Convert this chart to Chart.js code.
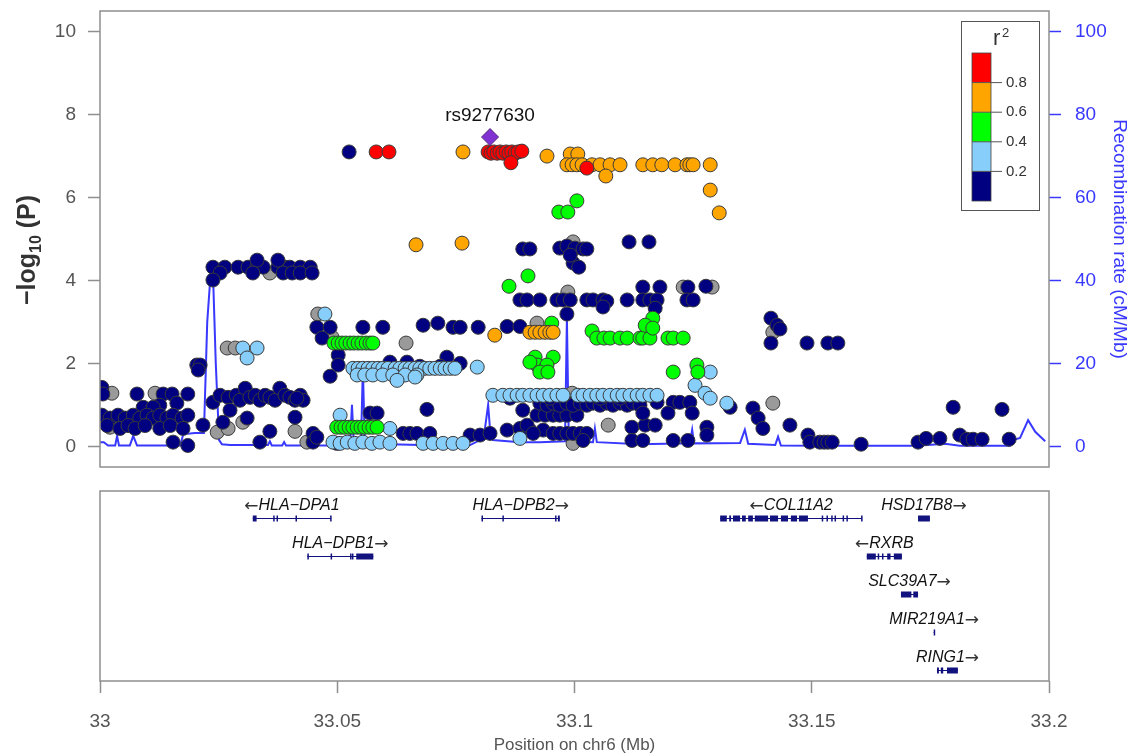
<!DOCTYPE html>
<html>
<head>
<meta charset="utf-8">
<script src="https://cdn.jsdelivr.net/npm/chart.js@4.4.1/dist/chart.umd.min.js"></script>
<style>
  html, body { margin: 0; padding: 0; background: #fff; }
  #wrap { position: relative; width: 1134px; height: 756px; }
  #assoc { position: absolute; left: 0; top: 0; }
  #genes { position: absolute; left: 0; top: 480px; }
</style>
</head>
<body>
<div id="wrap">
  <canvas id="assoc" width="1134" height="480"></canvas>
  <canvas id="genes" width="1134" height="276"></canvas>
</div>
<script>
// ---- Axis ticks -------------------------------------------------------
const pTicks = [0, 2, 4, 6, 8, 10];
const recombTicks = [0, 20, 40, 60, 80, 100];
const posTicks = [33, 33.05, 33.1, 33.15, 33.2];

// ---- r2 colour key (top to bottom) -----------------------------------
const r2Colors = ['#ff0000', '#ffa500', '#00ff00', '#87cefa', '#000080'];
const r2Breaks = ['0.8', '0.6', '0.4', '0.2'];

// ---- Index SNP --------------------------------------------------------
const leadName = 'rs9277630';
const leadPos = 33.0822;
const leadLogP = 7.46;

// ---- SNPs by LD class: [position (Mb), -log10 P] ----------------------
const snpRed = [
  [33.0582, 7.10], [33.0609, 7.10],
  [33.0818, 7.10], [33.0824, 7.07], [33.0830, 7.10], [33.0837, 7.07], [33.0843, 7.10],
  [33.0849, 7.07], [33.0856, 7.10], [33.0862, 7.07], [33.0868, 7.10], [33.0875, 7.07],
  [33.0881, 7.10], [33.0889, 7.12], [33.0866, 6.84], [33.1026, 6.71]
];
const snpOrange = [
  [33.0666, 4.86], [33.0763, 4.90], [33.0765, 7.10], [33.0942, 7.00],
  [33.0991, 7.05], [33.1007, 7.05],
  [33.0984, 6.79], [33.0995, 6.79], [33.1005, 6.79], [33.1016, 6.79], [33.1037, 6.79],
  [33.1054, 6.79], [33.1075, 6.79], [33.1096, 6.79], [33.1066, 6.52],
  [33.1144, 6.79], [33.1165, 6.79], [33.1184, 6.79], [33.1212, 6.79], [33.1237, 6.79],
  [33.1243, 6.79], [33.1250, 6.79], [33.1286, 6.79], [33.1286, 6.18], [33.1305, 5.63],
  [33.0832, 2.68], [33.0906, 2.75], [33.0917, 2.75], [33.0927, 2.75], [33.0938, 2.75],
  [33.0948, 2.75], [33.0955, 2.75]
];
const snpGreen = [
  [33.1005, 5.92], [33.0967, 5.65], [33.0986, 5.65], [33.0902, 4.11], [33.0862, 3.86],
  [33.0952, 2.97],
  [33.0493, 2.49], [33.0502, 2.49], [33.0510, 2.49], [33.0518, 2.49], [33.0527, 2.49],
  [33.0535, 2.49], [33.0544, 2.49], [33.0552, 2.49], [33.0561, 2.49], [33.0569, 2.49],
  [33.0575, 2.49],
  [33.0917, 2.15], [33.0955, 2.15], [33.0921, 1.96], [33.0942, 1.96], [33.0927, 1.79],
  [33.0944, 1.79], [33.0906, 2.03],
  [33.1037, 2.78],
  [33.1047, 2.61], [33.1062, 2.61], [33.1075, 2.61], [33.1096, 2.61], [33.1111, 2.61],
  [33.1138, 2.61], [33.1144, 2.61], [33.1159, 2.61], [33.1197, 2.61], [33.1208, 2.61],
  [33.1229, 2.61],
  [33.1165, 3.09], [33.1149, 2.92], [33.1165, 2.85],
  [33.1208, 1.79], [33.1258, 1.96], [33.1260, 1.79],
  [33.0499, 0.46], [33.0508, 0.46], [33.0516, 0.46], [33.0525, 0.46], [33.0533, 0.46],
  [33.0542, 0.46], [33.0550, 0.46], [33.0558, 0.46], [33.0567, 0.46], [33.0575, 0.46],
  [33.0584, 0.46]
];
const snpLightBlue = [
  [33.0301, 2.37], [33.0331, 2.37], [33.0310, 2.13], [33.0474, 3.19],
  [33.0533, 1.88], [33.0544, 1.88], [33.0554, 1.88], [33.0565, 1.88], [33.0575, 1.88],
  [33.0586, 1.88], [33.0596, 1.88], [33.0607, 1.88], [33.0622, 1.88], [33.0632, 1.88],
  [33.0643, 1.88], [33.0653, 1.88], [33.0664, 1.88], [33.0674, 1.88], [33.0685, 1.88],
  [33.0695, 1.88], [33.0706, 1.88], [33.0717, 1.88], [33.0727, 1.88], [33.0738, 1.88],
  [33.0748, 1.88],
  [33.0542, 1.72], [33.0558, 1.72], [33.0575, 1.72], [33.0596, 1.72], [33.0617, 1.72],
  [33.0643, 1.72], [33.0668, 1.72],
  [33.0626, 1.59], [33.0664, 1.67], [33.0795, 1.91],
  [33.0506, 0.75], [33.0611, 0.43],
  [33.0491, 0.10], [33.0506, 0.07], [33.0521, 0.10], [33.0537, 0.07], [33.0554, 0.10],
  [33.0573, 0.07], [33.0590, 0.10], [33.0611, 0.07], [33.0681, 0.07], [33.0702, 0.07],
  [33.0723, 0.07], [33.0744, 0.07], [33.0765, 0.07],
  [33.0885, 0.19],
  [33.0828, 1.23], [33.0849, 1.23], [33.0864, 1.23], [33.0879, 1.23], [33.0891, 1.23],
  [33.0906, 1.23], [33.0921, 1.23], [33.0934, 1.23], [33.0948, 1.23], [33.0963, 1.23],
  [33.0976, 1.23], [33.1007, 1.23], [33.1018, 1.23], [33.1033, 1.23], [33.1047, 1.23],
  [33.1060, 1.23], [33.1075, 1.23], [33.1090, 1.23], [33.1102, 1.23], [33.1117, 1.23],
  [33.1132, 1.23], [33.1144, 1.23], [33.1159, 1.23], [33.1174, 1.23],
  [33.1286, 1.79], [33.1254, 1.47], [33.1275, 1.28], [33.1286, 1.16], [33.1321, 1.04]
];
const snpNavy = [
  [33.0525, 7.10],
  [33.1115, 4.93], [33.1157, 4.93],
  [33.0891, 4.76], [33.0906, 4.76], [33.0969, 4.78], [33.0984, 4.83], [33.1001, 4.78],
  [33.1018, 4.76], [33.1026, 4.76], [33.0997, 4.42], [33.1009, 4.32], [33.0991, 4.61],
  [33.1144, 3.84], [33.1180, 3.84], [33.1239, 3.84], [33.1277, 3.86],
  [33.0885, 3.53], [33.0900, 3.53], [33.0927, 3.53], [33.0963, 3.53], [33.0976, 3.53],
  [33.0991, 3.53], [33.1026, 3.53], [33.1039, 3.53], [33.1060, 3.53], [33.1068, 3.50],
  [33.1111, 3.53], [33.1144, 3.53], [33.1159, 3.53], [33.1174, 3.53], [33.1237, 3.53],
  [33.1250, 3.53],
  [33.1060, 3.36], [33.1170, 3.33], [33.0984, 3.19],
  [33.0238, 4.32], [33.0263, 4.32], [33.0291, 4.32], [33.0312, 4.32], [33.0331, 4.32],
  [33.0344, 4.32], [33.0375, 4.32], [33.0390, 4.32], [33.0400, 4.32], [33.0422, 4.32],
  [33.0443, 4.32], [33.0331, 4.49], [33.0375, 4.49],
  [33.0253, 4.18], [33.0322, 4.18], [33.0386, 4.18], [33.0405, 4.18], [33.0422, 4.18],
  [33.0447, 4.18], [33.0238, 4.01],
  [33.0204, 1.96], [33.0211, 1.96], [33.0207, 1.84],
  [33.0457, 2.87], [33.0485, 2.87], [33.0468, 2.61], [33.0502, 2.20], [33.0502, 1.96],
  [33.0485, 1.69],
  [33.0554, 2.87], [33.0596, 2.87], [33.0681, 2.92], [33.0712, 2.97], [33.0744, 2.87],
  [33.0759, 2.87], [33.0797, 2.87], [33.0858, 2.89], [33.0885, 2.89],
  [33.0731, 2.15], [33.0611, 2.03], [33.0647, 2.03], [33.0759, 2.00],
  [33.1414, 3.09], [33.1427, 2.92], [33.1433, 2.83], [33.1414, 2.49], [33.1490, 2.49],
  [33.1534, 2.49], [33.1555, 2.49],
  [33.0004, 1.42], [33.0006, 1.26], [33.0078, 1.26], [33.0133, 1.26], [33.0152, 1.26],
  [33.0185, 1.26],
  [33.0126, 0.99], [33.0091, 0.94], [33.0112, 0.94], [33.0162, 1.04],
  [33.0004, 0.75], [33.0021, 0.68], [33.0038, 0.75], [33.0053, 0.68], [33.0070, 0.75],
  [33.0084, 0.68], [33.0099, 0.75], [33.0112, 0.68], [33.0126, 0.75], [33.0141, 0.68],
  [33.0154, 0.75], [33.0173, 0.68], [33.0185, 0.75],
  [33.0015, 0.50], [33.0042, 0.43], [33.0059, 0.50], [33.0074, 0.43], [33.0095, 0.50],
  [33.0126, 0.43], [33.0148, 0.50], [33.0175, 0.43],
  [33.0154, 0.10], [33.0185, 0.02], [33.0217, 0.51],
  [33.0238, 1.06], [33.0253, 1.23], [33.0270, 1.18], [33.0287, 1.23], [33.0295, 1.11],
  [33.0306, 1.40], [33.0316, 1.18], [33.0327, 1.23], [33.0337, 1.11], [33.0348, 1.23],
  [33.0358, 1.18], [33.0369, 1.11], [33.0379, 1.40], [33.0390, 1.23], [33.0400, 1.18],
  [33.0411, 1.11], [33.0422, 1.23], [33.0428, 1.11],
  [33.0274, 0.87], [33.0310, 0.68], [33.0259, 0.58], [33.0337, 0.10], [33.0358, 0.36],
  [33.0411, 0.70], [33.0415, 1.16],
  [33.0449, 0.31], [33.0449, 0.10], [33.0499, 0.07], [33.0457, 0.22],
  [33.0569, 0.80], [33.0584, 0.80], [33.0689, 0.89],
  [33.0639, 0.31], [33.0653, 0.31], [33.0668, 0.31], [33.0695, 0.31],
  [33.0780, 0.27], [33.0801, 0.27], [33.0822, 0.31],
  [33.0858, 0.39], [33.0885, 0.43], [33.0906, 0.39], [33.0934, 0.39], [33.0900, 0.51],
  [33.0891, 0.87],
  [33.0921, 0.75], [33.0938, 0.75], [33.0955, 0.75], [33.0969, 0.75], [33.0984, 0.75],
  [33.1005, 0.75],
  [33.0927, 1.04], [33.0942, 0.99], [33.0955, 1.04], [33.0969, 0.99], [33.0984, 1.04],
  [33.0997, 0.99], [33.1012, 1.04], [33.1026, 0.99], [33.1039, 1.04], [33.1054, 0.99],
  [33.1068, 1.04], [33.1081, 0.99], [33.1096, 1.04], [33.1111, 0.99], [33.1123, 1.04],
  [33.1138, 0.99],
  [33.0913, 0.31], [33.0955, 0.31], [33.0969, 0.31], [33.0984, 0.31], [33.0997, 0.31],
  [33.1012, 0.31], [33.1026, 0.31], [33.1018, 0.14],
  [33.1121, 0.46], [33.1149, 0.51], [33.1170, 0.51],
  [33.1121, 0.14], [33.1144, 0.14], [33.1208, 0.14], [33.1239, 0.14],
  [33.1174, 1.06], [33.1208, 1.06], [33.1222, 1.06], [33.1243, 1.06],
  [33.1144, 0.80], [33.1197, 0.80], [33.1248, 0.80],
  [33.1279, 0.46], [33.1279, 0.27],
  [33.1328, 0.94], [33.1376, 0.92], [33.1387, 0.68], [33.1397, 0.43],
  [33.1454, 0.51], [33.1492, 0.27], [33.1496, 0.10], [33.1517, 0.10], [33.1526, 0.10],
  [33.1534, 0.10], [33.1543, 0.10],
  [33.1604, 0.05], [33.1724, 0.10], [33.1741, 0.19], [33.1770, 0.19], [33.1798, 0.94],
  [33.1812, 0.27], [33.1827, 0.17], [33.1840, 0.17], [33.1859, 0.17], [33.1901, 0.89],
  [33.1916, 0.17],
  [33.0864, 1.16], [33.0948, 1.16], [33.1054, 1.16], [33.1096, 1.16],
  [33.0601, 1.88], [33.0674, 1.93], [33.0717, 1.93]
];
const snpGray = [
  [33.0025, 1.28], [33.0116, 1.28], [33.0021, 0.46], [33.0268, 2.37], [33.0285, 2.37],
  [33.0358, 4.18], [33.0301, 0.58], [33.0247, 0.34], [33.0270, 0.43], [33.0411, 0.36],
  [33.0459, 3.19], [33.0489, 2.63], [33.0436, 0.10], [33.0645, 2.49], [33.0921, 2.97],
  [33.0986, 3.72], [33.0997, 4.93], [33.0995, 1.28], [33.0997, 0.07], [33.1071, 0.51],
  [33.1229, 3.84], [33.1290, 3.84], [33.1418, 2.75], [33.1418, 1.04]
];

// ---- Recombination rate: [position (Mb), cM/Mb] ----------------------
const recomb = [
  [33.0000, 1.0], [33.0008, 1.0], [33.0017, 0.2], [33.0032, 0.2], [33.0036, 2.5],
  [33.0040, 0.2], [33.0063, 0.2], [33.0070, 2.5], [33.0078, 0.2], [33.0169, 0.2],
  [33.0177, 3.5], [33.0185, 3.0], [33.0200, 3.2], [33.0219, 3.2], [33.0226, 30],
  [33.0234, 43], [33.0238, 42], [33.0244, 20], [33.0251, 1.5], [33.0257, 0.5],
  [33.0274, 0.3], [33.0354, 0.3], [33.0358, 1.2], [33.0362, 0.2], [33.0384, 0.2],
  [33.0388, 1.0], [33.0392, 0.2], [33.0527, 0.2], [33.0531, 10], [33.0535, 0.5],
  [33.0550, 0.5], [33.0554, 19], [33.0558, 0.8], [33.0611, 0.5], [33.0674, 0.3],
  [33.0738, 0.2], [33.0780, 0.3], [33.0801, 1.5], [33.0811, 4], [33.0818, 10],
  [33.0822, 4], [33.0828, 1.5], [33.0885, 1.0], [33.0927, 1.0], [33.0980, 1.2],
  [33.0984, 31], [33.0988, 1.2], [33.1039, 1.0], [33.1043, 4.3], [33.1047, 1.0],
  [33.1138, 0.5], [33.1243, 0.7], [33.1248, 4], [33.1252, 0.7], [33.1349, 0.8],
  [33.1359, 4], [33.1366, 0.6], [33.1423, 0.3], [33.1429, 2.3], [33.1435, 0.2],
  [33.1517, 0.1], [33.1686, 0.1], [33.1722, 0.1], [33.1781, 0.6], [33.1812, 0.1],
  [33.1918, 0.1], [33.1924, 1.5], [33.1939, 2.0], [33.1956, 6.3], [33.1971, 3.5],
  [33.1992, 1.2]
];

// ---- Genes ------------------------------------------------------------
const geneNames = ['HLA\u2212DPA1', 'HLA\u2212DPB1', 'HLA\u2212DPB2', 'COL11A2', 'HSD17B8',
                   'RXRB', 'SLC39A7', 'MIR219A1', 'RING1'];
const geneStrand = ['-', '+', '+', '-', '+', '-', '+', '+', '+'];
const geneRow = [0, 1, 0, 0, 0, 1, 2, 3, 4];
const geneStart = [33.0322, 33.0437, 33.0804, 33.1307, 33.1724, 33.1616, 33.1688, 33.1757, 33.1764];
const geneEnd = [33.0487, 33.0576, 33.0969, 33.1606, 33.1749, 33.1690, 33.1724, 33.1759, 33.1808];
const geneExons = [
  [[33.0322, 33.0330], [33.0365, 33.0368], [33.0372, 33.0375], [33.0412, 33.0414], [33.0485, 33.0487]],
  [[33.0437, 33.0439], [33.0486, 33.0488], [33.0527, 33.0529], [33.0531, 33.0533], [33.0540, 33.0576]],
  [[33.0804, 33.0806], [33.0848, 33.0850], [33.0959, 33.0961], [33.0965, 33.0969]],
  [[33.1307, 33.1321], [33.1326, 33.1330], [33.1334, 33.1349], [33.1353, 33.1361], [33.1366, 33.1376],
   [33.1380, 33.1408], [33.1412, 33.1429], [33.1435, 33.1450], [33.1456, 33.1469], [33.1473, 33.1492],
   [33.1521, 33.1523], [33.1531, 33.1533], [33.1541, 33.1543], [33.1548, 33.1550], [33.1565, 33.1567],
   [33.1573, 33.1575], [33.1604, 33.1606]],
  [[33.1724, 33.1749]],
  [[33.1616, 33.1635], [33.1639, 33.1642], [33.1648, 33.1651], [33.1659, 33.1666], [33.1673, 33.1690]],
  [[33.1688, 33.1710], [33.1714, 33.1724]],
  [[33.1757, 33.1759]],
  [[33.1764, 33.1768], [33.1772, 33.1777], [33.1785, 33.1808]]
];

// ---- Styling ----------------------------------------------------------
const FONT = '"Liberation Sans", Arial, Helvetica, sans-serif';
const ARROW_FONT = '17px "DejaVu Sans", sans-serif';
Chart.defaults.font.family = FONT;
const frameColor = '#8f8f8f';
const recombBlue = '#3838ff';
const geneColor = '#12127f';

function snpSet(label, rows, color) {
  return {
    label,
    data: rows.map(([p, v]) => ({ x: p, y: v })),
    backgroundColor: color,
    borderColor: '#3a3a3a',
    borderWidth: 1,
    pointRadius: 7,
    pointHoverRadius: 7,
    yAxisID: 'y'
  };
}

// box around the plotting area
const frame = {
  id: 'frame',
  afterDraw(chart) {
    const a = chart.chartArea, ctx = chart.ctx;
    ctx.save();
    ctx.strokeStyle = frameColor;
    ctx.lineWidth = 1.5;
    ctx.strokeRect(a.left, a.top, a.right - a.left, a.bottom - a.top);
    ctx.restore();
  }
};

// -log10(P) axis title with a subscript
const pTitle = {
  id: 'pTitle',
  afterDraw(chart) {
    const ctx = chart.ctx;
    const mid = (chart.chartArea.top + chart.chartArea.bottom) / 2 + 11;
    ctx.save();
    ctx.translate(35, mid);
    ctx.rotate(-Math.PI / 2);
    ctx.fillStyle = '#333';
    ctx.textBaseline = 'alphabetic';
    ctx.textAlign = 'left';
    const big = 'bold 25px ' + FONT, small = 'bold 16px ' + FONT;
    const parts = [['\u2212log', big, 0], ['10', small, 6], [' (P)', big, 0]];
    let total = 0;
    parts.forEach(([t, f]) => { ctx.font = f; total += ctx.measureText(t).width; });
    let x = -total / 2;
    parts.forEach(([t, f, dy]) => {
      ctx.font = f;
      ctx.fillText(t, x, dy);
      x += ctx.measureText(t).width;
    });
    ctx.restore();
  }
};

// label over the index SNP
const leadLabel = {
  id: 'leadLabel',
  afterDatasetsDraw(chart) {
    const { ctx, scales: { x, y } } = chart;
    ctx.save();
    ctx.font = '19px ' + FONT;
    ctx.fillStyle = '#111';
    ctx.textAlign = 'center';
    ctx.textBaseline = 'middle';
    ctx.fillText(leadName, x.getPixelForValue(leadPos), y.getPixelForValue(leadLogP) - 21);
    ctx.restore();
  }
};

// r2 colour key
const r2Key = {
  id: 'r2Key',
  afterDraw(chart) {
    const ctx = chart.ctx, a = chart.chartArea;
    const bx = a.right - 88, by = a.top + 10, bw = 78, bh = 189;
    ctx.save();
    ctx.fillStyle = '#fff';
    ctx.fillRect(bx, by, bw, bh);
    ctx.strokeStyle = '#555';
    ctx.lineWidth = 1;
    ctx.strokeRect(bx + 0.5, by + 0.5, bw, bh);
    ctx.fillStyle = '#333';
    ctx.textAlign = 'left';
    ctx.textBaseline = 'alphabetic';
    ctx.font = '22px ' + FONT;
    ctx.fillText('r', bx + 32, by + 24);
    ctx.font = '13px ' + FONT;
    ctx.fillText('2', bx + 41, by + 16);
    const barX = bx + 11, barW = 19, barTop = by + 32, segH = 29.6;
    r2Colors.forEach((c, i) => {
      ctx.fillStyle = c;
      ctx.fillRect(barX, barTop + i * segH, barW, segH);
    });
    ctx.strokeStyle = '#444';
    ctx.lineWidth = 0.8;
    ctx.strokeRect(barX, barTop, barW, segH * r2Colors.length);
    ctx.font = '15px ' + FONT;
    ctx.textBaseline = 'middle';
    ctx.fillStyle = '#333';
    r2Breaks.forEach((lab, i) => {
      const yy = barTop + (i + 1) * segH;
      ctx.strokeStyle = '#555';
      ctx.lineWidth = 1;
      ctx.beginPath();
      ctx.moveTo(barX, yy);
      ctx.lineTo(barX + barW + 11, yy);
      ctx.stroke();
      ctx.fillText(lab, barX + barW + 15, yy);
    });
    ctx.restore();
  }
};

// gene models with strand-arrow labels
const geneTrack = {
  id: 'geneTrack',
  afterDatasetsDraw(chart) {
    const { ctx, scales: { x, y } } = chart;
    ctx.save();
    geneNames.forEach((name, i) => {
      const yy = Math.round(y.getPixelForValue(geneRow[i])) + 0.5;
      const x0 = x.getPixelForValue(geneStart[i]);
      const x1 = x.getPixelForValue(geneEnd[i]);
      ctx.strokeStyle = geneColor;
      ctx.lineWidth = 1;
      ctx.beginPath();
      ctx.moveTo(x0, yy);
      ctx.lineTo(x1, yy);
      ctx.stroke();
      ctx.fillStyle = geneColor;
      geneExons[i].forEach(([s, e]) => {
        const p0 = x.getPixelForValue(s), p1 = x.getPixelForValue(e);
        ctx.fillRect(p0, yy - 3, Math.max(p1 - p0, 1.5), 6);
      });
      const nameFont = 'italic 16px ' + FONT;
      const arrow = geneStrand[i] === '+' ? '\u2192' : '\u2190';
      ctx.font = nameFont;
      const wName = ctx.measureText(name).width;
      ctx.font = ARROW_FONT;
      const wArrow = ctx.measureText(arrow).width;
      const total = wName + wArrow;
      const left = (x0 + x1) / 2 - total / 2;
      const ty = yy - 13;
      ctx.textAlign = 'left';
      ctx.textBaseline = 'middle';
      ctx.fillStyle = '#111';
      if (geneStrand[i] === '+') {
        ctx.font = nameFont; ctx.fillText(name, left, ty);
        ctx.fillStyle = '#333';
        ctx.font = ARROW_FONT; ctx.fillText(arrow, left + wName, ty + 1);
      } else {
        ctx.fillStyle = '#333';
        ctx.font = ARROW_FONT; ctx.fillText(arrow, left, ty + 1);
        ctx.fillStyle = '#111';
        ctx.font = nameFont; ctx.fillText(name, left + wArrow, ty);
      }
    });
    ctx.restore();
  }
};

// ---- Association panel ------------------------------------------------
new Chart(document.getElementById('assoc'), {
  type: 'scatter',
  data: {
    datasets: [
      {
        label: leadName,
        data: [{ x: leadPos, y: leadLogP }],
        pointStyle: 'rectRot',
        pointRadius: 8.5,
        pointHoverRadius: 8.5,
        backgroundColor: '#8133d1',
        borderColor: '#55287f',
        borderWidth: 1,
        yAxisID: 'y'
      },
      snpSet('0.8-1.0', snpRed, r2Colors[0]),
      snpSet('0.6-0.8', snpOrange, r2Colors[1]),
      snpSet('0.4-0.6', snpGreen, r2Colors[2]),
      snpSet('0.2-0.4', snpLightBlue, r2Colors[3]),
      snpSet('0.0-0.2', snpNavy, r2Colors[4]),
      snpSet('NA', snpGray, '#9a9a9a'),
      {
        label: 'Recombination rate',
        data: recomb.map(([p, r]) => ({ x: p, y: r })),
        showLine: true,
        borderColor: recombBlue,
        borderWidth: 2,
        pointRadius: 0,
        pointHoverRadius: 0,
        tension: 0,
        yAxisID: 'y1'
      }
    ]
  },
  options: {
    responsive: false,
    animation: false,
    devicePixelRatio: 1,
    events: [],
    layout: { padding: { top: 11, bottom: 13, left: 0, right: 0 } },
    plugins: { legend: { display: false }, tooltip: { enabled: false } },
    scales: {
      x: { type: 'linear', min: 33, max: 33.2, display: false },
      y: {
        type: 'linear', position: 'left', min: -0.5, max: 10.5,
        afterBuildTicks: s => { s.ticks = pTicks.map(v => ({ value: v })); },
        afterFit: s => { s.width = 100; s.paddingTop = 0; s.paddingBottom = 0; },
        grid: { drawOnChartArea: false, drawTicks: true, tickLength: 12, tickColor: frameColor, tickWidth: 1.5 },
        border: { display: false },
        ticks: { color: '#555', padding: 12, font: { size: 19 }, callback: v => String(v) }
      },
      y1: {
        type: 'linear', position: 'right', min: -5, max: 105,
        afterBuildTicks: s => { s.ticks = recombTicks.map(v => ({ value: v })); },
        afterFit: s => { s.width = 85; s.paddingTop = 0; s.paddingBottom = 0; },
        grid: { drawOnChartArea: false, drawTicks: true, tickLength: 12, tickColor: recombBlue, tickWidth: 1.5 },
        border: { display: false },
        ticks: { color: recombBlue, padding: 14, font: { size: 19 }, callback: v => String(v) },
        title: {
          display: true, text: 'Recombination rate (cM/Mb)', color: recombBlue,
          font: { size: 19 }, padding: { top: 3, bottom: 0 }
        }
      }
    }
  },
  plugins: [frame, pTitle, leadLabel, r2Key]
});

// ---- Gene panel -------------------------------------------------------
new Chart(document.getElementById('genes'), {
  type: 'scatter',
  data: { datasets: [] },
  options: {
    responsive: false,
    animation: false,
    devicePixelRatio: 1,
    events: [],
    layout: { padding: { top: 11, bottom: 0, left: 100, right: 85 } },
    plugins: { legend: { display: false }, tooltip: { enabled: false } },
    scales: {
      x: {
        type: 'linear', position: 'bottom', min: 33, max: 33.2,
        afterBuildTicks: s => { s.ticks = posTicks.map(v => ({ value: v })); },
        afterFit: s => { s.height = 75; s.paddingLeft = 0; s.paddingRight = 0; },
        grid: { drawOnChartArea: false, drawTicks: true, tickLength: 12, tickColor: frameColor, tickWidth: 1.5 },
        border: { display: false },
        ticks: { color: '#555', padding: 17, font: { size: 19 }, maxRotation: 0, autoSkip: false, callback: v => String(v) },
        title: {
          display: true, text: 'Position on chr6 (Mb)', color: '#555',
          font: { size: 17 }, padding: { top: 0, bottom: 0 }
        }
      },
      y: { type: 'linear', min: -0.71, max: 4.29, reverse: true, display: false }
    }
  },
  plugins: [frame, geneTrack]
});
</script>
</body>
</html>
